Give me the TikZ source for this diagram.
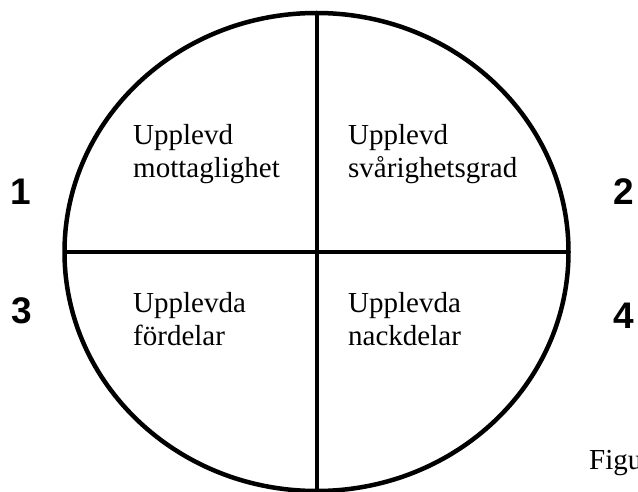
\documentclass[tikz,border=0pt]{standalone}
\usepackage{fontspec}
\setmainfont{Liberation Serif}
\newfontfamily\numfont{Liberation Sans}
\usetikzlibrary{shapes.geometric,positioning}

\begin{document}
\begin{tikzpicture}[
    x=1pt, y=-1pt,
    ring/.style={ellipse, draw, line width=4.5pt, outer sep=0pt, inner sep=0pt, minimum width=504pt, minimum height=478pt},
    divider/.style={line width=4pt},
    label/.style={inner sep=0pt, anchor=base west, align=left, font=\fontsize{29}{33}\selectfont},
    num/.style={inner sep=0pt, font=\numfont\bfseries\fontsize{37}{37}\selectfont}
]
\useasboundingbox (0,0) rectangle (638,492);
\clip (0,0) rectangle (638,492);
\fill[white] (0,0) rectangle (638,492);

\node[ring] (ring) at (316.5,252) {};
\draw[divider] (ring.north) -- (ring.south);
\draw[divider] (ring.west) -- (ring.east);

% quadrant texts
\node[label] (recept) at (133,178) {Upplevd\\mottaglighet};
\node[label] (severity) at (348,178) {Upplevd\\svårighetsgrad};
\node[label] (benefits) at (133,345) {Upplevda\\fördelar};
\node[label] (barriers) at (348,345) {Upplevda\\nackdelar};

% numbers
\node[num] (n1) at (21,191.5) {1};
\node[num] (n2) at (624,191.5) {2};
\node[num] (n3) at (22,311) {3};
\node[num] (n4) at (624,316) {4};

\node[label] (caption) at (589,469) {Figu};
\end{tikzpicture}
\end{document}
